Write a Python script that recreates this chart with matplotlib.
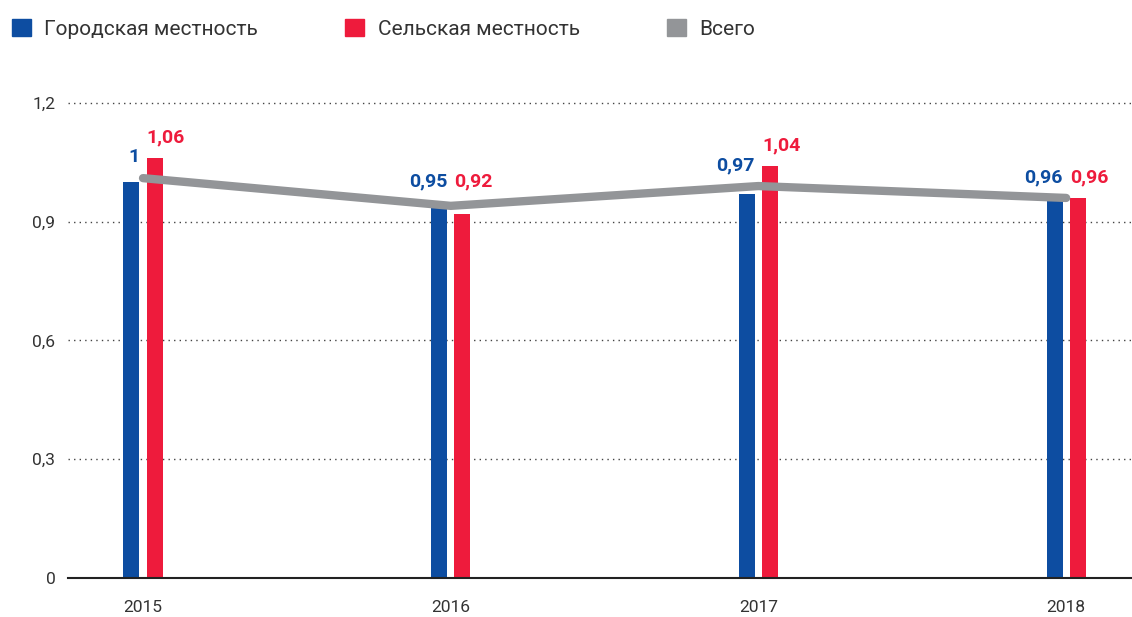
import numpy as np
import matplotlib.pyplot as plt
from matplotlib.patches import Patch

plt.rcParams['font.family'] = ['Roboto', 'DejaVu Sans']

years = ['2015', '2016', '2017', '2018']
urban = [1.00, 0.95, 0.97, 0.96]
rural = [1.06, 0.92, 1.04, 0.96]
total = [1.01, 0.94, 0.99, 0.96]
urban_labels = ['1', '0,95', '0,97', '0,96']
rural_labels = ['1,06', '0,92', '1,04', '0,96']
yticks = [0, 0.3, 0.6, 0.9, 1.2]
ytick_labels = ['0', '0,3', '0,6', '0,9', '1,2']

blue = '#0D4DA1'
red = '#EE1B3C'
gray = '#939598'
txt = '#333333'

fig = plt.figure(figsize=(11.32, 6.17), dpi=100)
ax = fig.add_axes([0.060, 0.0632, 0.940, 0.770])

x = np.arange(len(years))
w = 0.052
off = 0.0375
ax.bar(x - off, urban, w, color=blue, zorder=2)
ax.bar(x + off, rural, w, color=red, zorder=2)
ax.plot(x, total, color=gray, lw=6, solid_capstyle='round', solid_joinstyle='round', zorder=3)

for i in range(len(x)):
    yb = max(urban[i], total[i])
    yr = rural[i]
    if abs(urban[i] - rural[i]) < 0.05:
        yb = yr = max(yb, yr)
    ax.annotate(urban_labels[i], (x[i] - off + w / 2, yb), xytext=(0, 15),
                textcoords='offset points', ha='right', va='center',
                color=blue, fontsize=14, fontweight='bold')
    ax.annotate(rural_labels[i], (x[i] + off - w / 2, yr), xytext=(0, 15),
                textcoords='offset points', ha='left', va='center',
                color=red, fontsize=14, fontweight='bold')

ax.set_xlim(-0.244, 3.214)
ax.set_ylim(0, 1.2)
ax.set_yticks(yticks)
ax.set_yticklabels(ytick_labels)
ax.set_xticks(x)
ax.set_xticklabels(years)
ax.tick_params(axis='y', length=0, pad=9, labelsize=12.5, labelcolor=txt)
ax.tick_params(axis='x', length=0, pad=16, labelsize=12.5, labelcolor=txt)
for lab in ax.get_yticklabels():
    lab.set_va('center_baseline')

for t in yticks[1:]:
    ax.axhline(t, color='#444444', lw=1, ls=(0, (1, 3)), zorder=1, clip_on=False)
for s in ['top', 'right', 'left']:
    ax.spines[s].set_visible(False)
ax.spines['bottom'].set_color('#222222')
ax.spines['bottom'].set_linewidth(1.5)

handles = [Patch(color=blue), Patch(color=red), Patch(color=gray)]
names = ['Городская местность', 'Сельская местность', 'Всего']
fig.legend(handles, names, loc='upper left', bbox_to_anchor=(-0.006, 1.0), ncol=3,
           frameon=False, fontsize=15, handlelength=0.9, handleheight=0.9,
           handletextpad=0.65, columnspacing=4.2, labelcolor=txt)

fig.savefig('out.png', dpi=100)
